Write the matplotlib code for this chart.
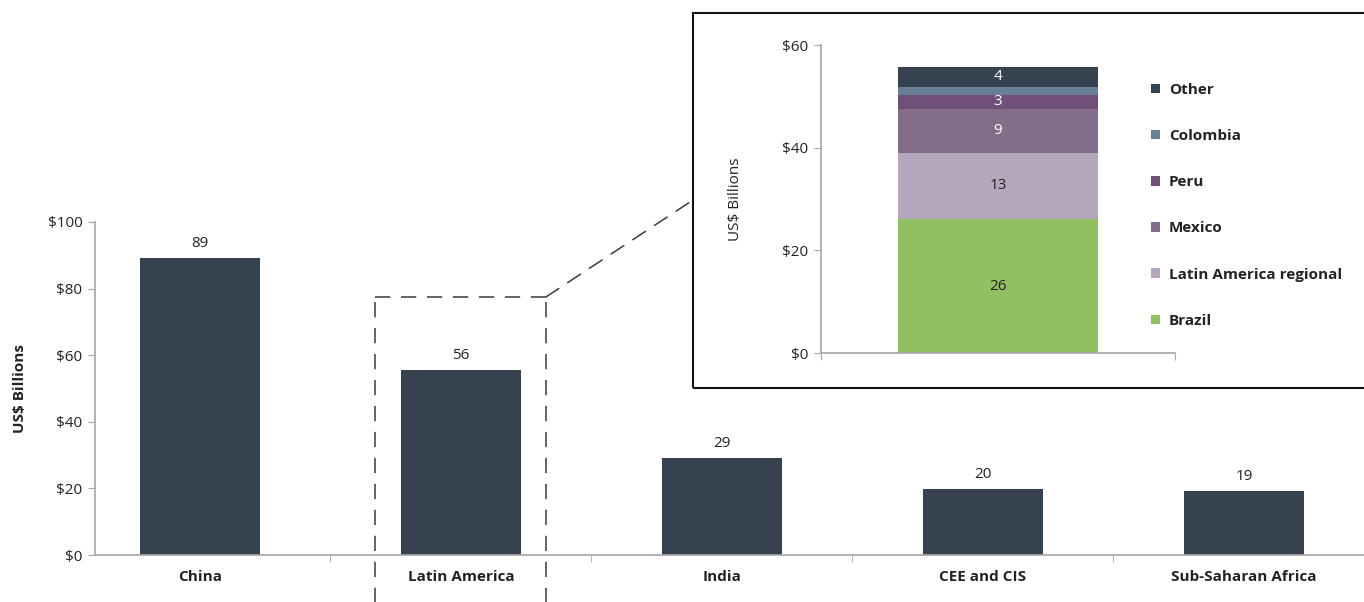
import matplotlib
matplotlib.use("Agg")
import matplotlib.pyplot as plt
from matplotlib.patches import Rectangle, ConnectionPatch
from matplotlib.ticker import FuncFormatter, FixedLocator

plt.rcParams['font.family'] = ['Open Sans', 'DejaVu Sans']

# ---- data ----
regions = ["China", "Latin America", "India", "CEE and CIS", "Sub-Saharan Africa"]
region_values = [89.3, 55.7, 29.0, 19.8, 19.3]
region_labels = ["89", "56", "29", "20", "19"]

latam_parts = ["Brazil", "Latin America regional", "Mexico", "Peru", "Colombia", "Other"]
latam_values = [26.1, 12.9, 8.6, 2.6, 1.7, 3.9]
latam_labels = ["26", "13", "9", "3", "", "4"]
latam_colors = ["#92C060", "#B4A7BB", "#826E89", "#6E5078", "#687F96", "#36424F"]
latam_text_colors = ["#222222", "#222222", "white", "white", "white", "white"]

main_ticks = [0, 20, 40, 60, 80, 100]
inset_ticks = [0, 20, 40, 60]

bar_color = "#36424F"
spine_color = "#A6A6A6"
text_color = "#222222"
FS = 11

W, H = 1364, 602
fig = plt.figure(figsize=(W / 100, H / 100), dpi=100)

def fx(px):
    return px / W

def fy(py):
    return (H - py) / H

# ---- main axes ----
ax = fig.add_axes([fx(95), fy(555), (1374.5 - 95) / W, 333 / H])
x = list(range(len(regions)))
ax.bar(x, region_values, width=0.46, color=bar_color, zorder=2)
for xi, v, lab in zip(x, region_values, region_labels):
    ax.annotate(lab, (xi, v), xytext=(0, 5), textcoords="offset points",
                ha="center", va="bottom", fontsize=FS, color=text_color)
ax.set_xlim(-0.402, 4.5)
ax.set_ylim(0, 100)
ax.set_yticks(main_ticks)
ax.yaxis.set_major_formatter(FuncFormatter(lambda v, p: f"${v:.0f}"))
ax.set_xticks(x)
ax.set_xticklabels(regions, fontweight="bold", fontsize=FS, color=text_color)
ax.xaxis.set_minor_locator(FixedLocator([0.5, 1.5, 2.5, 3.5]))
ax.tick_params(axis="x", which="major", length=0, pad=11)
ax.tick_params(axis="x", which="minor", length=5, color=spine_color, direction="out")
ax.tick_params(axis="y", length=5, color=spine_color, labelsize=FS, labelcolor=text_color, pad=4)
for s in ["top", "right"]:
    ax.spines[s].set_visible(False)
for s in ["left", "bottom"]:
    ax.spines[s].set_color(spine_color)
    ax.spines[s].set_linewidth(1.2)
ax.set_ylabel("US$ Billions", fontweight="bold", fontsize=FS, color=text_color, labelpad=15)

# dashed highlight around Latin America
dash = dict(color="#3A3A3A", lw=1.1, linestyle=(0, (10, 7)), clip_on=False, zorder=3)
li = regions.index("Latin America")
top = 77.5
ax.plot([li - 0.331, li - 0.331], [-16, top], **dash)
ax.plot([li + 0.326, li + 0.326], [-16, top], **dash)
ax.plot([li - 0.331, li + 0.326], [top, top], **dash)

# inset frame
frame = Rectangle((fx(693), fy(388)), (1370 - 693) / W, (388 - 13) / H,
                  transform=fig.transFigure, fill=False, edgecolor="#111111",
                  lw=1.5, zorder=5)
fig.patches.append(frame)

con = ConnectionPatch(xyA=(li + 0.326, top), coordsA=ax.transData,
                      xyB=(fx(693), fy(200)), coordsB=fig.transFigure,
                      color="#3A3A3A", lw=1.1, linestyle=(0, (10, 7)))
fig.add_artist(con)

# ---- inset axes ----
ax2 = fig.add_axes([fx(821), fy(353), (1175 - 821) / W, 308 / H])
bottom = 0.0
for name, v, col, lab, tc in zip(latam_parts, latam_values, latam_colors, latam_labels, latam_text_colors):
    ax2.bar(0, v, bottom=bottom, width=0.565, color=col, label=name, zorder=2)
    if lab:
        ax2.text(0, bottom + v / 2, lab, ha="center", va="center", fontsize=FS, color=tc, zorder=3)
    bottom += v
ax2.set_xlim(-0.5, 0.5)
ax2.set_ylim(0, 60)
ax2.set_yticks(inset_ticks)
ax2.yaxis.set_major_formatter(FuncFormatter(lambda v, p: f"${v:.0f}"))
ax2.set_xticks([-0.5, 0.5])
ax2.set_xticklabels(["", ""])
ax2.tick_params(axis="x", length=5, color=spine_color)
ax2.tick_params(axis="y", length=5, color=spine_color, labelsize=FS, labelcolor=text_color, pad=4)
for s in ["top", "right"]:
    ax2.spines[s].set_visible(False)
for s in ["left", "bottom"]:
    ax2.spines[s].set_color(spine_color)
    ax2.spines[s].set_linewidth(1.2)
ax2.set_ylabel("US$ Billions", fontsize=FS, color=text_color, labelpad=28)

handles, labels = ax2.get_legend_handles_labels()
leg = fig.legend(handles[::-1], labels[::-1], loc="upper left",
                 bbox_to_anchor=(fx(1137), fy(69)), frameon=False,
                 handlelength=0.6, handleheight=0.6, handletextpad=0.57,
                 labelspacing=2.11, prop=dict(weight="bold", size=FS))
for t in leg.get_texts():
    t.set_color(text_color)

fig.savefig("out.png", dpi=100)
